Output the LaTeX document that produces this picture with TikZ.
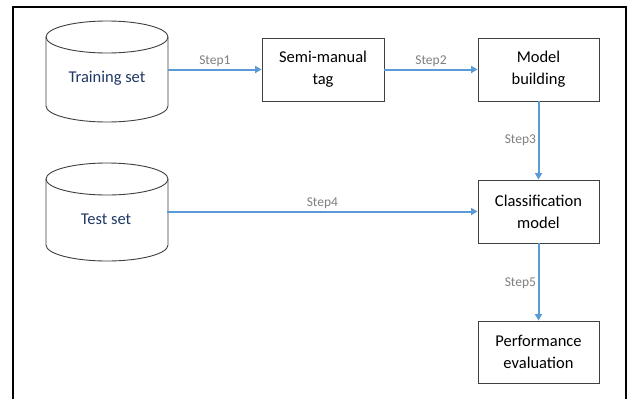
\documentclass[tikz,border=0pt]{standalone}
\usepackage{fontspec}
\setmainfont{Carlito}
\usetikzlibrary{arrows.meta}
\definecolor{arrowblue}{HTML}{5B9BD5}
\definecolor{stepgray}{HTML}{7F7F7F}
\definecolor{dbtext}{HTML}{203864}
\definecolor{boxline}{HTML}{404040}
\begin{document}
\begin{tikzpicture}[x=1pt,y=1pt,
  procbox/.style={draw=boxline,line width=0.9pt,minimum width=121pt,minimum height=63pt,
    align=center,font=\fontsize{16.5}{22}\selectfont,inner sep=0pt},
  dbtext/.style={text=dbtext,font=\fontsize{16.5}{20}\selectfont,minimum width=122pt,inner sep=0pt},
  cyl/.style={draw=boxline,line width=0.9pt},
  flow/.style={draw=arrowblue,line width=2pt,-{Triangle[length=6.5pt,width=7pt]}},
  steplbl/.style={text=stepgray,font=\fontsize{13.5}{16}\selectfont,inner sep=1.5pt}]
\useasboundingbox (0,0) rectangle (632,-399);
\fill[white] (0,0) rectangle (632,-399);
% frame
\draw[line width=2.4pt] (13,-399) -- (13,-7) -- (626,-7) -- (626,-399);
% cylinders
\draw[cyl,fill=white] (46,-37) -- (46,-106) arc[start angle=180,end angle=360,x radius=61,y radius=16] -- (168,-37);
\draw[cyl] (107,-37) ellipse[x radius=61,y radius=16];
\draw[cyl,fill=white] (46,-179) -- (46,-245) arc[start angle=180,end angle=360,x radius=61,y radius=16] -- (168,-179);
\draw[cyl] (107,-179) ellipse[x radius=61,y radius=16];
\node[dbtext] (train) at (107,-78) {Training set};
\node[dbtext] (test) at (106,-219) {Test set};
% boxes
\node[procbox,minimum width=122pt] (semi) at (323,-69.5) {Semi-manual\\tag};
\node[procbox] (model) at (538.5,-69.5) {Model\\building};
\node[procbox] (class) at (538.5,-211.5) {Classification\\model};
\node[procbox,minimum height=62pt] (perf) at (538.5,-352) {Performance\\evaluation};
% connectors
\draw[flow] (train.east |- semi.west) -- node[steplbl,above] {Step1} (semi.west);
\draw[flow] (semi.east) -- node[steplbl,above] {Step2} (model.west);
\draw[flow] (model.south) -- node[steplbl,left,pos=0.5] {Step3} (class.north);
\draw[flow] (test.east |- class.west) -- node[steplbl,above] {Step4} (class.west);
\draw[flow] (class.south) -- node[steplbl,left,pos=0.52] {Step5} (perf.north);
\end{tikzpicture}
\end{document}
